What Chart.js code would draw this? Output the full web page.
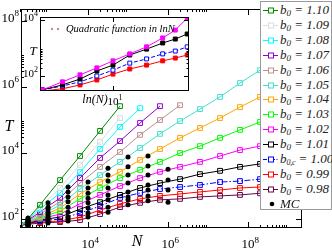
<!DOCTYPE html>
<html>
<head>
<meta charset="utf-8">
<script src="https://cdn.jsdelivr.net/npm/chart.js@4.4.0/dist/chart.umd.min.js"></script>
<style>
  html, body { margin: 0; padding: 0; background: #fff; }
  #wrap { position: relative; width: 332px; height: 250px; overflow: hidden; }
  #mainChart { position: absolute; left: 0; top: 0; }
  #insetChart { position: absolute; left: 14px; top: 8px; }
  #legend {
    position: absolute; left: 260px; top: 1px; width: 72px; height: 209px;
    border: 1px solid #9a9a9a; background: #fff; box-sizing: border-box;
    font: italic 13px "Liberation Serif", "Times New Roman", serif; color: #222;
  }
  #legend .row { position: absolute; left: 0; height: 14px; line-height: 14px; white-space: nowrap; }
  #legend svg { position: absolute; left: 1px; top: 3px; }
  #legend .txt { position: absolute; left: 19px; top: 0; }
  #legend sub { font-size: 9px; vertical-align: -2px; line-height: 0; }
  #legend sub.c { font-size: 8px; letter-spacing: -0.3px; }
</style>
</head>
<body>
<div id="wrap">
  <canvas id="mainChart" width="332" height="250"></canvas>
  <canvas id="insetChart" width="184" height="104"></canvas>
  <div id="legend"></div>
</div>
<script>
// system size N where the curves are sampled
const nSquares = [200, 630, 2000, 6300, 2.0e4, 6.3e4, 2.0e5, 6.3e5, 2.0e6, 6.3e6, 2.0e7, 6.3e7, 2.0e8, 6.3e8, 2.0e9];

// T for each b0 (curves stop where the data stops)
const t110 = [52, 263, 1480, 7940, 45700, 257000];
const t109 = [56, 224, 851, 4270, 21400, 112000];
const t108 = [60, 195, 603, 2570, 12900, 60300, 224000];
const t107 = [63, 158, 427, 1700, 6920, 22400, 79400, 257000];
const t106 = [63, 138, 324, 1200, 3720, 10500, 34700, 97700, 275000];
const t105 = [63, 120, 263, 794, 2090, 5250, 13800, 37200, 91200, 209000, 490000, 1290000, 3160000];
const t104 = [63, 112, 209, 562, 1290, 2630, 6030, 12900, 28200, 56200, 112000, 240000, 490000, 1000000, 2000000];
const t103 = [63, 105, 170, 398, 851, 1700, 3020, 5250, 9770, 15800, 28200, 49000, 85100, 148000, 257000];
const t102 = [63, 98, 138, 282, 525, 977, 1700, 2630, 3720, 5250, 7940, 12000, 15800, 20900, 27500];
const t101 = [63, 91, 112, 195, 316, 525, 851, 1200, 1580, 2240, 2820, 3720, 4570, 5500, 6600];
const t100 = [63, 85, 98, 148, 240, 427, 603, 794, 912, 1050, 1290, 1380, 1580, 1780, 2000];
const t099 = [63, 79, 85, 112, 182, 282, 398, 490, 562, 646, 741, 851, 912, 980, 1050];
const t098 = [63, 74, 79, 91, 138, 224, 302, 372, 398, 457, 490, 525, 589, 630, 680];

const b0Labels = ["1.10", "1.09", "1.08", "1.07", "1.06", "1.05", "1.04", "1.03", "1.02", "1.01", "1.00", "0.99", "0.98"];
const b0Values = [t110, t109, t108, t107, t106, t105, t104, t103, t102, t101, t100, t099, t098];
const b0Colors = ["#008b00", "#dcdcdc", "#00ffff", "#9400d3", "#bc8f8f", "#40e0d0", "#ffa500", "#00ff00", "#ff00ff", "#000000", "#0000ff", "#ff0000", "#670748"];

// Monte Carlo points
const mcN = [316, 1000, 3160, 1.0e4, 3.16e4, 1.0e5, 3.16e5, 1.0e6];
const mcT = [
  [105, 98, 91, 87, 83, 79, 76, 72, 69, 66, 63, 60, 58],
  [302, 224, 195, 158, 138, 120, 105, 98, 91, 79, 74],
  [912, 646, 457, 324, 224, 158, 112, 98, 85],
  [1290, 851, 589, 417, 302, 209, 148, 112],
  [3390, 2090, 1380, 851, 525, 372, 224, 158],
  [7410, 3720, 2090, 1200, 646, 457, 372, 263],
  [7940, 3980, 2090, 1050, 741, 490, 347],
  [3160, 1480, 741, 316]
];

// inset: T against ln(N)
const insetLnN = [4.95, 6.4, 7.65, 8.85, 10.0, 11.2, 12.4, 13.55, 14.45, 15.3];
const insetT102 = [32, 62, 110, 195, 347, 617, 1100, 2290, 4370, 11700];
const insetT101 = [32, 48, 78, 151, 245, 562, 912, 1510, 2090, 3160];
const insetT100 = [32, 44, 62, 100, 162, 288, 407, 617, 776, 1100];
const insetT099 = [29, 35, 48, 72, 117, 178, 245, 347, 437, 562];

const serif = "'Liberation Serif', 'Times New Roman', serif";

function drawPower(ctx, value, x, y, align, size) {
  const exp = String(Math.round(Math.log10(value)));
  const baseFont = size + "px " + serif;
  const expFont = Math.round(size * 0.7) + "px " + serif;
  ctx.font = baseFont;
  const wBase = ctx.measureText("10").width;
  ctx.font = expFont;
  const wExp = ctx.measureText(exp).width;
  const left = align === "right" ? x - wBase - wExp : x - wBase / 2;
  ctx.textAlign = "left";
  ctx.textBaseline = "alphabetic";
  ctx.fillStyle = "#000";
  ctx.font = baseFont;
  ctx.fillText("10", left, y);
  ctx.font = expFont;
  ctx.fillText(exp, left + wBase, y - size * 0.42);
}

const framePlugin = {
  id: "frame",
  beforeDraw(chart, args, opts) {
    if (!opts.fill) return;
    const a = chart.chartArea;
    chart.ctx.save();
    chart.ctx.fillStyle = "#fff";
    chart.ctx.fillRect(a.left, a.top, a.right - a.left, a.bottom - a.top);
    chart.ctx.restore();
  },
  afterDraw(chart, args, opts) {
    const ctx = chart.ctx;
    const a = chart.chartArea;
    const xs = chart.scales.x;
    const ys = chart.scales.y;
    ctx.save();
    ctx.strokeStyle = "#000";
    ctx.lineWidth = 1;
    ctx.strokeRect(a.left + 0.5, a.top + 0.5, a.right - a.left - 1, a.bottom - a.top - 1);

    ctx.beginPath();
    (opts.xMajor || []).forEach(v => {
      const px = Math.round(xs.getPixelForValue(v)) + 0.5;
      ctx.moveTo(px, a.bottom); ctx.lineTo(px, a.bottom - opts.major);
      ctx.moveTo(px, a.top); ctx.lineTo(px, a.top + opts.major);
    });
    (opts.xMinor || []).forEach(v => {
      const px = Math.round(xs.getPixelForValue(v)) + 0.5;
      ctx.moveTo(px, a.bottom); ctx.lineTo(px, a.bottom - opts.minor);
      ctx.moveTo(px, a.top); ctx.lineTo(px, a.top + opts.minor);
    });
    (opts.yMajor || []).forEach(v => {
      const py = Math.round(ys.getPixelForValue(v)) + 0.5;
      ctx.moveTo(a.left, py); ctx.lineTo(a.left + opts.major, py);
      ctx.moveTo(a.right, py); ctx.lineTo(a.right - opts.major, py);
    });
    (opts.yMinor || []).forEach(v => {
      const py = Math.round(ys.getPixelForValue(v)) + 0.5;
      ctx.moveTo(a.left, py); ctx.lineTo(a.left + opts.minor, py);
      ctx.moveTo(a.right, py); ctx.lineTo(a.right - opts.minor, py);
    });
    ctx.stroke();

    (opts.xMajor || []).forEach(v => {
      drawPower(ctx, v, xs.getPixelForValue(v), a.bottom + opts.xLabelGap, "center", opts.labelSize);
    });
    (opts.yMajor || []).forEach(v => {
      drawPower(ctx, v, a.left - 2, ys.getPixelForValue(v) + opts.yLabelShift, "right", opts.labelSize);
    });

    ctx.fillStyle = "#000";
    ctx.textAlign = "center";
    ctx.textBaseline = "middle";
    (opts.titles || []).forEach(t => {
      ctx.font = "italic " + t.size + "px " + serif;
      ctx.fillText(t.text, t.x, t.y);
    });

    if (opts.note) {
      const n = opts.note;
      ctx.fillStyle = "#bc8f8f";
      [0, 6].forEach(dx => {
        ctx.beginPath();
        ctx.arc(n.x + dx, n.y, 1.2, 0, Math.PI * 2);
        ctx.fill();
      });
      ctx.fillStyle = "#000";
      ctx.textAlign = "left";
      ctx.font = "italic " + n.size + "px " + serif;
      ctx.fillText(n.text, n.x + 14, n.y);
    }
    ctx.restore();
  }
};

function minorTicks(decades) {
  const out = [];
  decades.forEach(d => {
    for (let k = 2; k <= 9; k++) out.push(k * Math.pow(10, d));
  });
  return out;
}

const mainDatasets = b0Labels.map(function (label, i) {
  return {
    label: "b0 = " + label,
    data: b0Values[i].map((t, j) => ({ x: nSquares[j], y: t })),
    borderColor: b0Colors[i],
    borderWidth: 1,
    borderDash: label === "1.00" ? [6, 2, 1.5, 2] : [],
    pointStyle: "rect",
    pointRadius: 3.4,
    pointBorderWidth: 1,
    pointBorderColor: b0Colors[i],
    pointBackgroundColor: "rgba(0,0,0,0)",
    tension: 0,
    order: 1
  };
});

const mcPoints = [];
mcN.forEach((n, i) => mcT[i].forEach(t => mcPoints.push({ x: n, y: t })));

mainDatasets.push({
  label: "MC",
  data: mcPoints,
  showLine: false,
  pointStyle: "circle",
  pointRadius: 2.5,
  pointBorderWidth: 0,
  pointBackgroundColor: "#000",
  order: 0
});

new Chart(document.getElementById("mainChart"), {
  type: "line",
  data: { datasets: mainDatasets },
  options: {
    responsive: false,
    animation: false,
    layout: { padding: { left: 21, right: 30, top: 9, bottom: 22 } },
    scales: {
      x: { type: "logarithmic", min: 211, max: 2.24e9, display: false },
      y: { type: "logarithmic", min: 52.2, max: 2.26e8, display: false }
    },
    plugins: {
      legend: { display: false },
      tooltip: { enabled: false },
      frame: {
        major: 6, minor: 3, labelSize: 13, xLabelGap: 20, yLabelShift: 1,
        xMajor: [1e4, 1e6, 1e8],
        xMinor: minorTicks([2, 4, 6, 8]),
        yMajor: [1e2, 1e4, 1e6, 1e8],
        yMinor: minorTicks([2, 4, 6]),
        titles: [
          { text: "T", x: 9, y: 127, size: 16 },
          { text: "N", x: 137, y: 242, size: 16 }
        ]
      }
    }
  },
  plugins: [framePlugin]
});

const insetSeries = [
  { t: insetT102, color: "#ff00ff", dash: [], fill: "#ff00ff" },
  { t: insetT101, color: "#000000", dash: [], fill: "#000000" },
  { t: insetT100, color: "#0000ff", dash: [4, 2], fill: "#ffffff" },
  { t: insetT099, color: "#ff0000", dash: [], fill: "#ff0000" }
];

new Chart(document.getElementById("insetChart"), {
  type: "line",
  data: {
    datasets: insetSeries.map(s => ({
      data: s.t.map((t, j) => ({ x: insetLnN[j], y: t })),
      borderColor: s.color,
      borderWidth: 1,
      borderDash: s.dash,
      pointStyle: "rect",
      pointRadius: 2.8,
      pointBorderWidth: 1,
      pointBorderColor: s.color,
      pointBackgroundColor: s.fill,
      tension: 0
    }))
  },
  options: {
    responsive: false,
    animation: false,
    layout: { padding: { left: 26, right: 9, top: 9, bottom: 21 } },
    scales: {
      x: { type: "linear", min: 4.79, max: 15.43, display: false },
      y: { type: "logarithmic", min: 29.1, max: 12800, display: false }
    },
    plugins: {
      legend: { display: false },
      tooltip: { enabled: false },
      frame: {
        fill: true,
        major: 5, minor: 2.5, labelSize: 11, xLabelGap: 14, yLabelShift: 1,
        xMajor: [10],
        yMajor: [1e2, 1e4],
        yMinor: minorTicks([2]),
        titles: [
          { text: "T", x: 19, y: 44, size: 13 },
          { text: "ln(N)", x: 81, y: 92, size: 12 }
        ],
        note: { text: "Quadratic function in lnN", x: 38, y: 21, size: 10.5 }
      }
    }
  },
  plugins: [framePlugin]
});

// legend box
const legendBox = document.getElementById("legend");
const legendRows = b0Labels.map((label, i) => ({
  html: label === "1.00" ? 'b<sub class="c">0,c</sub> = ' + label : "b<sub>0</sub> = " + label,
  color: b0Colors[i],
  dash: label === "1.00" ? "4 1.5 1 1.5" : ""
}));
legendRows.push({ html: "MC", color: "#000", dot: true });

legendRows.forEach(function (row, i) {
  const div = document.createElement("div");
  div.className = "row";
  div.style.top = (1 + i * 14.9) + "px";
  let svg;
  if (row.dot) {
    svg = '<svg width="18" height="8"><circle cx="10" cy="4" r="2.3" fill="#000"/></svg>';
  } else {
    svg = '<svg width="18" height="8"><line x1="1" y1="4.5" x2="16" y2="4.5" stroke="' + row.color +
      '" stroke-width="1"' + (row.dash ? ' stroke-dasharray="' + row.dash + '"' : "") + '/>' +
      '<rect x="6.5" y="2" width="5" height="5" fill="#fff" stroke="' + row.color + '" stroke-width="1"/></svg>';
  }
  div.innerHTML = svg + '<span class="txt">' + row.html + "</span>";
  legendBox.appendChild(div);
});
</script>
</body>
</html>
